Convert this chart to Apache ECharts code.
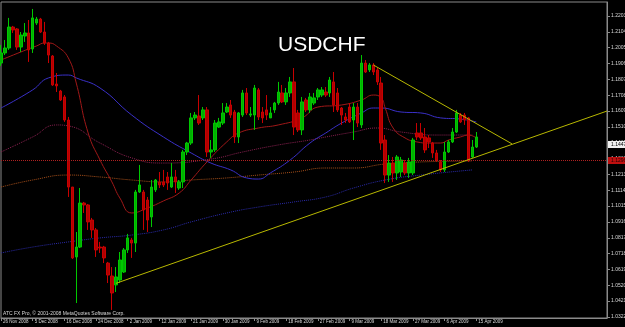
<!DOCTYPE html>
<html><head><meta charset="utf-8">
<script src="https://cdn.jsdelivr.net/npm/echarts@6/dist/echarts.min.js"></script>
<style>html,body{margin:0;padding:0;background:#000}#c{width:625px;height:327px}</style>
</head><body><div id="c"></div><script>
// x tick labels, one every 8 daily bars
const tickLabels = ['26 Nov 2008','5 Dec 2008','16 Dec 2008','24 Dec 2008','2 Jan 2009','12 Jan 2009','21 Jan 2009','30 Jan 2009','9 Feb 2009','18 Feb 2009','27 Feb 2009','9 Mar 2009','18 Mar 2009','27 Mar 2009','6 Apr 2009','15 Apr 2009'];
const barsPerLabel = 8;
const totalSlots = 154; // 121 bars + empty shift area on the right
// price tick labels (right axis)
const priceTicks = [1.03220,1.04210,1.05200,1.06190,1.07180,1.08170,1.09160,1.10150,1.11140,1.12130,1.13120,1.14110,1.15100,1.16090,1.17080,1.18070,1.19060,1.20050,1.21040,1.22030];

const opens = [
1.1909,1.1972,1.2003,1.2134,1.2122,1.2009,1.2078,1.2097,1.1997,1.2159,
1.2184,1.2103,1.2034,1.1953,1.1778,1.1734,1.1697,1.1553,1.1134,1.0697,
1.0759,1.1034,1.1022,1.0928,1.0866,1.0759,1.0759,1.0659,1.0578,1.0522,
1.0553,1.0603,1.0741,1.0803,1.0784,1.1103,1.1103,1.1053,1.0947,1.1116,
1.1166,1.1166,1.1197,1.1134,1.1197,1.1128,1.1166,1.1353,1.1409,1.1566,
1.1578,1.1566,1.1616,1.1353,1.1366,1.1509,1.1534,1.1603,1.1647,1.1603,
1.1447,1.1584,1.1722,1.1584,1.1584,1.1741,1.1603,1.1616,1.1566,1.1616,
1.1659,1.1722,1.1666,1.1722,1.1791,1.1597,1.1491,1.1678,1.1616,1.1659,
1.1697,1.1709,1.1728,1.1722,1.1791,1.1722,1.1628,1.1572,1.1634,1.1553,
1.1634,1.1522,1.1909,1.1866,1.1897,1.1866,1.1784,1.1428,1.1209,1.1284,
1.1222,1.1228,1.1284,1.1222,1.1222,1.1472,1.1472,1.1447,1.1441,1.1409,
1.1347,1.1291,1.1241,1.1353,1.1416,1.1478,1.1584,1.1584,1.1566,1.1322,
1.1384];
const closes = [
1.1972,1.2003,1.2134,1.2116,1.2009,1.2084,1.2097,1.1991,1.2191,1.2184,
1.2103,1.2034,1.1959,1.1772,1.1766,1.1678,1.1553,1.1134,1.0691,1.0759,
1.1034,1.1022,1.0916,1.0866,1.0741,1.0753,1.0691,1.0584,1.0472,1.0572,
1.0678,1.0741,1.0816,1.0784,1.1103,1.1147,1.0991,1.0928,1.1134,1.1178,
1.1147,1.1147,1.1159,1.1197,1.1166,1.1166,1.1353,1.1409,1.1566,1.1584,
1.1534,1.1616,1.1353,1.1366,1.1534,1.1541,1.1597,1.1634,1.1584,1.1447,
1.1597,1.1722,1.1597,1.1591,1.1753,1.1572,1.1566,1.1584,1.1597,1.1659,
1.1728,1.1666,1.1722,1.1791,1.1509,1.1491,1.1666,1.1616,1.1697,1.1691,
1.1741,1.1741,1.1709,1.1803,1.1647,1.1616,1.1584,1.1553,1.1541,1.1634,
1.1534,1.1909,1.1853,1.1897,1.1853,1.1791,1.1409,1.1209,1.1284,1.1222,
1.1322,1.1303,1.1222,1.1291,1.1428,1.1447,1.1441,1.1366,1.1416,1.1347,
1.1303,1.1241,1.1353,1.1416,1.1478,1.1597,1.1541,1.1553,1.1303,1.1384,
1.1447];
const lows = [
1.1891,1.1959,1.1991,1.2097,1.1991,1.1978,1.2041,1.1916,1.1972,1.2147,
1.2097,1.2022,1.1909,1.1766,1.1728,1.1672,1.1541,1.1072,1.0684,1.0409,
1.0753,1.0972,1.0866,1.0816,1.0697,1.0722,1.0659,1.0534,1.0366,1.0478,
1.0534,1.0597,1.0722,1.0691,1.0728,1.1097,1.0866,1.0853,1.0884,1.1103,
1.1128,1.1134,1.1116,1.1128,1.1097,1.1116,1.1128,1.1334,1.1397,1.1553,
1.1522,1.1553,1.1322,1.1316,1.1353,1.1503,1.1522,1.1597,1.1566,1.1409,
1.1409,1.1572,1.1584,1.1572,1.1491,1.1553,1.1534,1.1553,1.1566,1.1597,
1.1647,1.1659,1.1647,1.1697,1.1459,1.1478,1.1459,1.1603,1.1597,1.1647,
1.1678,1.1697,1.1697,1.1697,1.1603,1.1603,1.1522,1.1534,1.1534,1.1428,
1.1509,1.1503,1.1847,1.1853,1.1834,1.1772,1.1366,1.1159,1.1166,1.1166,
1.1178,1.1197,1.1209,1.1191,1.1209,1.1428,1.1428,1.1347,1.1378,1.1316,
1.1291,1.1228,1.1228,1.1347,1.1409,1.1472,1.1534,1.1522,1.1291,1.1316,
1.1378];
const highs = [
1.2022,1.2053,1.2191,1.2141,1.2128,1.2103,1.2159,1.2178,1.2247,1.2197,
1.2191,1.2166,1.2041,1.1959,1.1847,1.1741,1.1709,1.1572,1.1134,1.0853,
1.1128,1.1041,1.1028,1.0941,1.0878,1.0791,1.0766,1.0666,1.0634,1.0634,
1.0728,1.0753,1.0841,1.0816,1.1116,1.1272,1.1116,1.1072,1.1178,1.1184,
1.1228,1.1241,1.1228,1.1284,1.1241,1.1178,1.1366,1.1416,1.1597,1.1603,
1.1709,1.1634,1.1634,1.1428,1.1553,1.1566,1.1659,1.1659,1.1678,1.1616,
1.1603,1.1741,1.1753,1.1634,1.1772,1.1753,1.1634,1.1709,1.1634,1.1666,
1.1791,1.1772,1.1753,1.1822,1.1878,1.1616,1.1697,1.1691,1.1722,1.1722,
1.1753,1.1759,1.1759,1.1822,1.1853,1.1753,1.1634,1.1597,1.1659,1.1659,
1.1659,1.1959,1.1928,1.1909,1.1909,1.1878,1.1822,1.1459,1.1334,1.1322,
1.1334,1.1322,1.1303,1.1316,1.1441,1.1534,1.1534,1.1503,1.1459,1.1416,
1.1366,1.1303,1.1416,1.1428,1.1503,1.1616,1.1597,1.1597,1.1572,1.1428,
1.1478];

// indicator lines, [bar index, price]
const maFast = [[0,1.1928],[5,1.1978],[9,1.2016],[11,1.2034],[12,1.2034],[14,1.2016],[17,1.1941],[19,1.1784],[22,1.1472],[25,1.1303],[28,1.1166],[30,1.1066],[33,1.0972],[37,1.1003],[41,1.1047],[45,1.1097],[48,1.1178],[52,1.1291],[57,1.1416],[60,1.1472],[65,1.1503],[70,1.1522],[76,1.1566],[80,1.1634],[86,1.1647],[91,1.1678],[94,1.1709],[96,1.1691],[97,1.1628],[99,1.1503],[102,1.1441],[105,1.1416],[108,1.1409],[111,1.1409],[113,1.1428],[116,1.1447],[118,1.1459],[120,1.1441]];
const maMid = [[0,1.1628],[8,1.1741],[12,1.1816],[17,1.1834],[19,1.1816],[25,1.1753],[33,1.1584],[41,1.1447],[48,1.1347],[53,1.1284],[58,1.1241],[62,1.1191],[65,1.1184],[68,1.1222],[73,1.1303],[78,1.1409],[82,1.1472],[86,1.1534],[91,1.1597],[94,1.1628],[96,1.1628],[101,1.1603],[106,1.1597],[111,1.1566],[116,1.1559],[120,1.1541]];
const maSlow = [[0,1.1353],[8,1.1447],[14,1.1522],[17,1.1516],[25,1.1409],[33,1.1316],[41,1.1284],[53,1.1309],[61,1.1353],[70,1.1397],[78,1.1428],[82,1.1447],[89,1.1478],[95,1.1503],[101,1.1478],[110,1.1459],[119,1.1459]];
const maLong = [[0,1.1134],[8,1.1178],[17,1.1209],[25,1.1197],[33,1.1178],[41,1.1166],[48,1.1178],[57,1.1191],[65,1.1209],[74,1.1228],[82,1.1253],[89,1.1253],[97,1.1278],[106,1.1291],[119,1.1297]];
const maLowBand = [[0,1.0722],[8,1.0759],[17,1.0791],[25,1.0816],[33,1.0834],[41,1.0866],[48,1.0916],[57,1.0972],[65,1.1009],[74,1.1041],[82,1.1072],[89,1.1128],[97,1.1178],[106,1.1209],[119,1.1241]];
// trendlines
const supportLine = [[29,1.0532],[153,1.1609]];
const resistLine = [[94,1.1897],[129,1.1404]];
const hLineLevel = 1.12967;
const hLineText = '1.12967';
const lastPriceText = '1.14470';

const categories = Array.from({length: totalSlots}, (_, i) => String(i));
const candles = opens.map((o, i) => [o, closes[i], lows[i], highs[i]]);
const isLabelIdx = (idx) => idx % barsPerLabel === 0 && idx / barsPerLabel < tickLabels.length;

const FONT = 'Liberation Sans';
const chart = echarts.init(document.getElementById('c'), null, {renderer: 'canvas'});
const dotted = (d, color) => ({type: 'line', data: d, smooth: true, showSymbol: false, symbol: 'none', silent: true,
  lineStyle: {color: color, width: 1, type: 'dotted'}, z: 2});
const solid = (d, color) => ({type: 'line', data: d, smooth: true, showSymbol: false, symbol: 'none', silent: true,
  lineStyle: {color: color, width: 1}, z: 3});

chart.setOption({
  animation: false,
  backgroundColor: '#000',
  title: {text: 'USDCHF', left: 273, top: 30, textStyle: {color: '#fff', fontSize: 21, fontWeight: 'normal', fontFamily: FONT}},
  grid: {left: 1, right: 18, top: 2, bottom: 9, show: true, borderColor: '#8a8a8a', borderWidth: 1, backgroundColor: '#000',
    outerBoundsMode: 'none', containLabel: false},
  graphic: [{type: 'text', left: 3, top: 311, style: {text: 'ATC FX Pro, \u00a9 2001-2008 MetaQuotes Software Corp.', fill: '#d8d8d8', font: '5px ' + FONT}}],
  xAxis: {
    type: 'category', data: categories, boundaryGap: false,
    axisLine: {lineStyle: {color: '#8a8a8a', width: 1}},
    axisTick: {interval: (i) => isLabelIdx(i), length: 3, lineStyle: {color: '#8a8a8a'}},
    axisLabel: {interval: (i) => isLabelIdx(i), formatter: (v, i) => tickLabels[i / barsPerLabel] || '',
      align: 'left', margin: 1, padding: [0, 0, 0, 2], color: '#d8d8d8', fontSize: 4.5, fontFamily: FONT, hideOverlap: false},
    splitLine: {show: false}
  },
  yAxis: {
    type: 'value', position: 'right', min: 1.03155, max: 1.22905, scale: true,
    axisLine: {show: true, lineStyle: {color: '#8a8a8a', width: 1}},
    axisTick: {show: true, length: 3, customValues: priceTicks, lineStyle: {color: '#8a8a8a'}},
    axisLabel: {customValues: priceTicks, formatter: (v) => v.toFixed(5), color: '#d8d8d8', fontSize: 5, fontFamily: FONT, margin: 4},
    splitLine: {show: false}
  },
  series: [
    dotted(maLowBand, '#2a2aa8'),
    dotted(maLong, '#a8501a'),
    dotted(maSlow, '#8a2050'),
    solid(maMid, '#3a30c8'),
    {
      type: 'candlestick', data: candles, barWidth: 3, z: 4,
      itemStyle: {color: '#00b000', color0: '#b00000', borderColor: '#00c800', borderColor0: '#c80000', borderWidth: 1},
      markLine: {
        silent: true, symbol: ['none', 'none'], animation: false,
        data: [
          {yAxis: hLineLevel, lineStyle: {color: '#b02020', type: 'dotted', width: 1},
           label: {show: true, position: 'end', distance: 1, formatter: hLineText, backgroundColor: '#c01010', color: '#200000', fontSize: 5, fontFamily: FONT, padding: [1, 3]}},
          {yAxis: closes[closes.length - 1], lineStyle: {color: 'rgba(0,0,0,0)', width: 1},
           label: {show: true, position: 'end', distance: 1, formatter: lastPriceText, backgroundColor: '#f0f0f0', color: '#000', fontSize: 5, fontFamily: FONT, padding: [1, 3]}}
        ]
      }
    },
    solid(maFast, '#a01818'),
    {type: 'line', data: supportLine, showSymbol: false, symbol: 'none', silent: true, lineStyle: {color: '#b8b800', width: 1}, z: 5},
    {type: 'line', data: resistLine, showSymbol: false, symbol: 'none', silent: true, lineStyle: {color: '#b8b800', width: 1}, z: 5}
  ]
});
</script></body></html>
